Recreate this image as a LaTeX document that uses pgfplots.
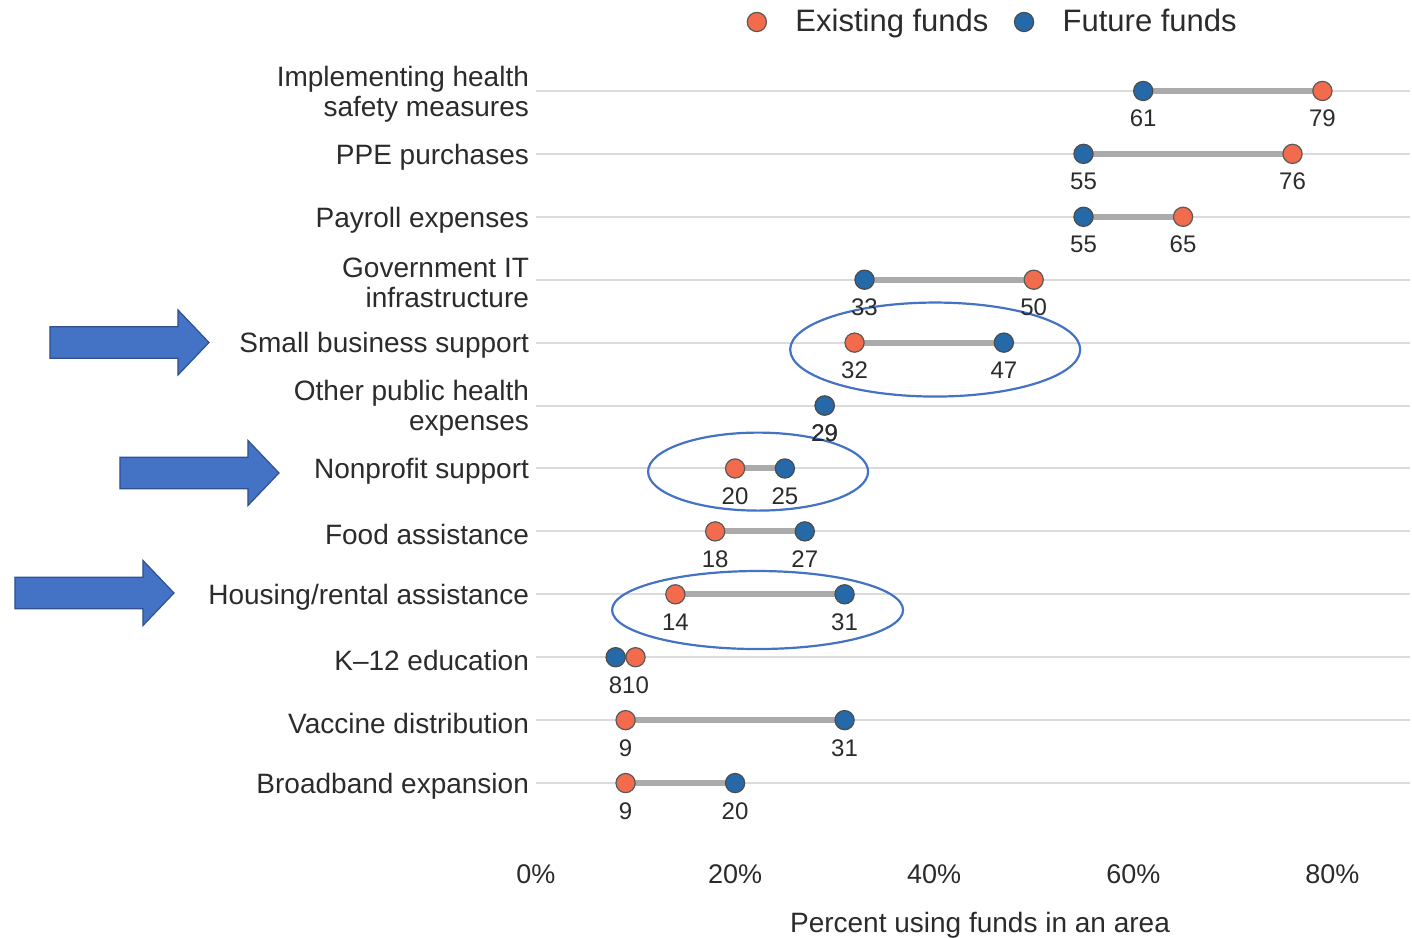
\documentclass[border=0pt]{standalone}
\usepackage{pgfplots}
\pgfplotsset{compat=1.18}
\usepackage{fontspec}
\setmainfont{Liberation Sans}
\definecolor{exist}{HTML}{F26B4C}
\definecolor{future}{HTML}{2569A8}
\definecolor{txt}{HTML}{2B2B2B}
\definecolor{annot}{HTML}{4472C4}
\definecolor{annotdk}{HTML}{2F528F}
\newcommand\blockarrow[1]{\filldraw[fill=annot, draw=annotdk, line width=0.6pt] #1 -- ++(-15.5pt,16.25pt) -- ++(0,-8.35pt) -- ++(-64pt,0) -- ++(0,-15.8pt) -- ++(64pt,0) -- ++(0,-8.35pt) -- cycle;}
\begin{document}
\begin{tikzpicture}
\begin{axis}[name=ax, scale only axis, width=437pt, height=377.5pt,
 xmin=0, xmax=87.8, ymin=0.5, ymax=12.5, y dir=reverse,
 clip=false, axis line style={draw=none}, major tick length=0,
 xtick={0,20,40,60,80}, xticklabels={0\%,20\%,40\%,60\%,80\%},
 ytick={1,...,12},
 yticklabels={{Implementing health\\safety measures},{PPE purchases},{Payroll expenses},{Government IT\\infrastructure},{Small business support},{Other public health\\expenses},{Nonprofit support},{Food assistance},{Housing/rental assistance},{K--12 education},{Vaccine distribution},{Broadband expansion}},
 ymajorgrids, grid style={color=black!14, line width=1pt},
 xticklabel style={font=\fontsize{13.5}{16}\selectfont, text=txt, yshift=-21.5pt},
 yticklabel style={font=\fontsize{14}{15}\selectfont, text=txt, align=right, yshift=-1.5pt},
 legend style={at={(0.524,1.0497)}, anchor=center, draw=none, fill=none, legend columns=2,
   font=\fontsize{15.5}{18}\selectfont, text=txt,
   /tikz/every odd column/.append style={column sep=12.5pt},
   /tikz/every even column/.append style={column sep=11pt}},
]
\addplot[forget plot, color=black!33, line width=3pt, unbounded coords=jump] coordinates {
(61,1) (79,1) (nan,nan)
(55,2) (76,2) (nan,nan)
(55,3) (65,3) (nan,nan)
(33,4) (50,4) (nan,nan)
(32,5) (47,5) (nan,nan)
(29,6) (29,6) (nan,nan)
(20,7) (25,7) (nan,nan)
(18,8) (27,8) (nan,nan)
(14,9) (31,9) (nan,nan)
(8,10) (10,10) (nan,nan)
(9,11) (31,11) (nan,nan)
(9,12) (20,12)
};
\addplot[only marks, mark=*, mark size=4.8pt, mark options={fill=exist, draw=black!65, line width=0.6pt},
  nodes near coords, point meta=explicit symbolic, nodes near coords align={below},
  every node near coord/.append style={font=\fontsize{12}{14}\selectfont, text=txt, yshift=-6pt}]
coordinates {(79,1)[79] (76,2)[76] (65,3)[65] (50,4)[50] (32,5)[32] (29,6)[29] (20,7)[20] (18,8)[18] (14,9)[14] (10,10)[10] (9,11)[9] (9,12)[9]};
\addlegendentry{Existing funds}
\addplot[only marks, mark=*, mark size=4.8pt, mark options={fill=future, draw=black!70, line width=0.6pt},
  nodes near coords, point meta=explicit symbolic, nodes near coords align={below},
  every node near coord/.append style={font=\fontsize{12}{14}\selectfont, text=txt, yshift=-6pt}]
coordinates {(61,1)[61] (55,2)[55] (55,3)[55] (33,4)[33] (47,5)[47] (29,6)[29] (25,7)[25] (27,8)[27] (31,9)[31] (8,10)[8] (31,11)[31] (20,12)[20]};
\addlegendentry{Future funds}
\draw[annot, line width=1.1pt] (axis cs:40.1,5.11) ellipse [x radius=72.5pt, y radius=23.5pt];
\draw[annot, line width=1.1pt] (axis cs:22.31,7.05) ellipse [x radius=55pt, y radius=19.5pt];
\draw[annot, line width=1.1pt] (axis cs:22.26,9.25) ellipse [x radius=72.75pt, y radius=19.5pt];
\end{axis}
\blockarrow{([shift={(-163.5pt,236pt)}]ax.south west)}
\blockarrow{([shift={(-128.5pt,170.75pt)}]ax.south west)}
\blockarrow{([shift={(-181pt,110.75pt)}]ax.south west)}
\node[font=\fontsize{14}{16}\selectfont, text=txt] at ([shift={(222pt,-55.25pt)}]ax.south west) {Percent using funds in an area};
\pgfresetboundingbox
\path[use as bounding box] ([shift={(-268pt,-61.25pt)}]ax.south west) rectangle ([shift={(438pt,407.25pt)}]ax.south west);
\end{tikzpicture}
\end{document}
